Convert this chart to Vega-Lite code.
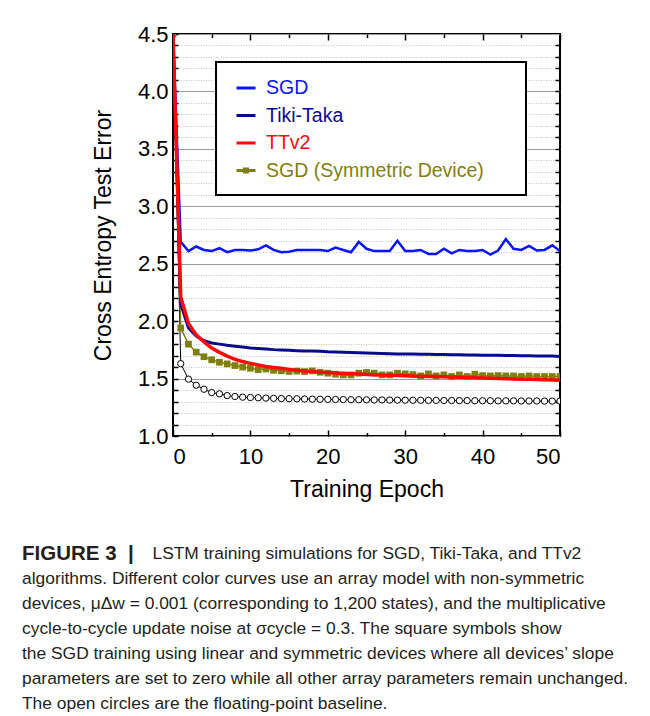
{
  "$schema": "https://vega.github.io/schema/vega-lite/v6.json",
  "width": 387,
  "height": 402,
  "padding": {"left": 22, "top": 23, "right": 5, "bottom": 5},
  "background": "white",
  "title": {
    "text": "FIGURE 3\u00a0\u00a0|",
    "subtitle": [
      "\u200b\u00a0\u00a0\u00a0\u00a0\u00a0\u00a0\u00a0\u00a0\u00a0\u00a0\u00a0\u00a0\u00a0\u00a0\u00a0\u00a0\u00a0\u00a0\u00a0\u00a0\u00a0\u00a0\u00a0\u00a0\u00a0\u00a0\u00a0LSTM training simulations for SGD, Tiki-Taka, and TTv2",
      "algorithms. Different color curves use an array model with non-symmetric",
      "devices, μΔw = 0.001 (corresponding to 1,200 states), and the multiplicative",
      "cycle-to-cycle update noise at σcycle = 0.3. The square symbols show",
      "the SGD training using linear and symmetric devices where all devices’ slope",
      "parameters are set to zero while all other array parameters remain unchanged.",
      "The open circles are the floating-point baseline."
    ],
    "orient": "bottom",
    "anchor": "start",
    "frame": "group",
    "dx": -151,
    "offset": 43,
    "font": "Liberation Sans",
    "fontSize": 20.5,
    "fontWeight": "bold",
    "color": "#231f20",
    "subtitleFont": "Liberation Sans",
    "subtitleFontSize": 17.4,
    "subtitleFontWeight": "normal",
    "subtitleColor": "#231f20",
    "subtitleLineHeight": 25,
    "subtitlePadding": -20
  },
  "data": {
    "values": [
      {"e":0,"sgd":4.5,"tt":4.5,"tt2":4.5,"sym":4.5,"fp":4.5},
      {"e":1,"sgd":2.69,"tt":2.15,"tt2":2.21,"sym":1.94,"fp":1.63},
      {"e":2,"sgd":2.61,"tt":1.94,"tt2":1.98,"sym":1.80,"fp":1.495},
      {"e":3,"sgd":2.65,"tt":1.87,"tt2":1.88,"sym":1.73,"fp":1.442},
      {"e":4,"sgd":2.62,"tt":1.83,"tt2":1.82,"sym":1.69,"fp":1.407},
      {"e":5,"sgd":2.61,"tt":1.81,"tt2":1.765,"sym":1.663,"fp":1.378},
      {"e":6,"sgd":2.635,"tt":1.80,"tt2":1.728,"sym":1.642,"fp":1.367},
      {"e":7,"sgd":2.60,"tt":1.79,"tt2":1.695,"sym":1.628,"fp":1.352},
      {"e":8,"sgd":2.62,"tt":1.782,"tt2":1.668,"sym":1.613,"fp":1.344},
      {"e":9,"sgd":2.62,"tt":1.775,"tt2":1.648,"sym":1.60,"fp":1.338},
      {"e":10,"sgd":2.615,"tt":1.767,"tt2":1.632,"sym":1.59,"fp":1.335},
      {"e":11,"sgd":2.625,"tt":1.762,"tt2":1.618,"sym":1.578,"fp":1.333},
      {"e":12,"sgd":2.66,"tt":1.757,"tt2":1.606,"sym":1.583,"fp":1.33},
      {"e":13,"sgd":2.62,"tt":1.752,"tt2":1.597,"sym":1.572,"fp":1.328},
      {"e":14,"sgd":2.60,"tt":1.749,"tt2":1.589,"sym":1.568,"fp":1.326},
      {"e":15,"sgd":2.605,"tt":1.746,"tt2":1.58,"sym":1.562,"fp":1.325},
      {"e":16,"sgd":2.62,"tt":1.743,"tt2":1.572,"sym":1.565,"fp":1.324},
      {"e":17,"sgd":2.62,"tt":1.741,"tt2":1.566,"sym":1.561,"fp":1.322},
      {"e":18,"sgd":2.62,"tt":1.739,"tt2":1.561,"sym":1.567,"fp":1.321},
      {"e":19,"sgd":2.62,"tt":1.737,"tt2":1.556,"sym":1.555,"fp":1.32},
      {"e":20,"sgd":2.61,"tt":1.733,"tt2":1.552,"sym":1.547,"fp":1.319},
      {"e":21,"sgd":2.64,"tt":1.731,"tt2":1.548,"sym":1.538,"fp":1.318},
      {"e":22,"sgd":2.62,"tt":1.73,"tt2":1.545,"sym":1.532,"fp":1.317},
      {"e":23,"sgd":2.60,"tt":1.727,"tt2":1.542,"sym":1.532,"fp":1.316},
      {"e":24,"sgd":2.69,"tt":1.724,"tt2":1.539,"sym":1.547,"fp":1.316},
      {"e":25,"sgd":2.63,"tt":1.722,"tt2":1.536,"sym":1.553,"fp":1.315},
      {"e":26,"sgd":2.61,"tt":1.72,"tt2":1.533,"sym":1.547,"fp":1.314},
      {"e":27,"sgd":2.61,"tt":1.718,"tt2":1.531,"sym":1.532,"fp":1.314},
      {"e":28,"sgd":2.61,"tt":1.716,"tt2":1.529,"sym":1.532,"fp":1.313},
      {"e":29,"sgd":2.70,"tt":1.715,"tt2":1.527,"sym":1.547,"fp":1.312},
      {"e":30,"sgd":2.61,"tt":1.715,"tt2":1.525,"sym":1.541,"fp":1.312},
      {"e":31,"sgd":2.61,"tt":1.714,"tt2":1.523,"sym":1.535,"fp":1.311},
      {"e":32,"sgd":2.62,"tt":1.712,"tt2":1.521,"sym":1.523,"fp":1.311},
      {"e":33,"sgd":2.585,"tt":1.711,"tt2":1.519,"sym":1.541,"fp":1.31},
      {"e":34,"sgd":2.585,"tt":1.71,"tt2":1.517,"sym":1.523,"fp":1.31},
      {"e":35,"sgd":2.63,"tt":1.709,"tt2":1.515,"sym":1.532,"fp":1.309},
      {"e":36,"sgd":2.59,"tt":1.708,"tt2":1.513,"sym":1.518,"fp":1.309},
      {"e":37,"sgd":2.62,"tt":1.708,"tt2":1.511,"sym":1.532,"fp":1.308},
      {"e":38,"sgd":2.61,"tt":1.706,"tt2":1.509,"sym":1.518,"fp":1.308},
      {"e":39,"sgd":2.61,"tt":1.705,"tt2":1.507,"sym":1.538,"fp":1.307},
      {"e":40,"sgd":2.62,"tt":1.704,"tt2":1.505,"sym":1.526,"fp":1.307},
      {"e":41,"sgd":2.58,"tt":1.703,"tt2":1.503,"sym":1.523,"fp":1.307},
      {"e":42,"sgd":2.615,"tt":1.703,"tt2":1.501,"sym":1.526,"fp":1.306},
      {"e":43,"sgd":2.715,"tt":1.701,"tt2":1.499,"sym":1.523,"fp":1.306},
      {"e":44,"sgd":2.63,"tt":1.70,"tt2":1.497,"sym":1.523,"fp":1.306},
      {"e":45,"sgd":2.62,"tt":1.699,"tt2":1.495,"sym":1.518,"fp":1.305},
      {"e":46,"sgd":2.655,"tt":1.698,"tt2":1.493,"sym":1.523,"fp":1.305},
      {"e":47,"sgd":2.615,"tt":1.697,"tt2":1.491,"sym":1.518,"fp":1.305},
      {"e":48,"sgd":2.62,"tt":1.696,"tt2":1.489,"sym":1.518,"fp":1.304},
      {"e":49,"sgd":2.66,"tt":1.696,"tt2":1.487,"sym":1.518,"fp":1.304},
      {"e":50,"sgd":2.61,"tt":1.693,"tt2":1.485,"sym":1.518,"fp":1.304}
    ]
  },
  "layer": [
    {
      "mark": {"type": "line", "color": "black", "strokeWidth": 1, "clip": true,
        "point": {"filled": true, "fill": "white", "stroke": "black", "strokeWidth": 1, "size": 40, "clip": true}},
      "encoding": {
        "x": {"field": "e", "type": "quantitative", "scale": {"domain": [0, 50], "nice": false},
          "axis": {"orient": "bottom", "values": [0, 10, 20, 30, 40, 50], "tickSize": -6, "labelFontSize": 22, "labelPadding": 16, "grid": false, "title": "Training Epoch", "titleFontSize": 23, "titlePadding": 11}},
        "y": {"field": "fp", "type": "quantitative", "scale": {"domain": [1, 4.5], "nice": false, "zero": false},
          "axis": {"orient": "left", "values": [1, 1.5, 2, 2.5, 3, 3.5, 4, 4.5], "format": ".1f", "tickSize": -5, "labelFontSize": 22, "labelPadding": 10, "grid": true, "gridColor": "#9a9a9a", "gridWidth": 1, "title": "Cross Entropy Test Error", "titleFontSize": 23, "titlePadding": 22}}
      }
    },
    {
      "mark": {"type": "line", "strokeWidth": 2.5, "clip": true},
      "encoding": {
        "x": {"field": "e", "type": "quantitative",
          "axis": {"orient": "bottom", "values": [5, 15, 25, 35, 45], "tickSize": -3.5, "labels": false, "grid": false, "title": null}},
        "y": {"field": "sgd", "type": "quantitative",
          "axis": {"orient": "left", "values": [1.1,1.2,1.3,1.4,1.6,1.7,1.8,1.9,2.1,2.2,2.3,2.4,2.6,2.7,2.8,2.9,3.1,3.2,3.3,3.4,3.6,3.7,3.8,3.9,4.1,4.2,4.3,4.4], "tickSize": -5, "labels": false, "grid": true, "gridColor": "#c4c4c4", "gridDash": [1, 1.5], "gridWidth": 1, "title": null}},
        "color": {"datum": "SGD", "type": "nominal",
          "scale": {"domain": ["SGD", "Tiki-Taka", "TTv2", "SGD (Symmetric Device)"], "range": ["#0a14ff", "#0a0a8c", "#ff0a0a", "#7f7f10"]},
          "legend": {"orient": "none", "legendX": 43, "legendY": 28, "title": null, "symbolType": "stroke", "symbolStrokeWidth": 3, "symbolSize": 361, "symbolOffset": 4, "labelFontSize": 19.5, "labelFont": "Liberation Sans", "labelLimit": 400, "labelOffset": 9, "rowPadding": 6.5, "padding": 15, "fillColor": "white", "strokeColor": "black",
            "labelExpr": "datum.label + '\u00a0\u00a0\u00a0\u00a0\u00a0\u200b'",
            "encode": {
              "labels": {"update": {"fill": {"scale": "color", "field": "value"}}},
              "symbols": {"update": {"shape": {"signal": "datum.value === 'SGD (Symmetric Device)' ? 'M-1,0H1M-0.17,-0.17H0.17V0.17H-0.17Z' : 'stroke'"}}},
              "legend": {"update": {"strokeWidth": {"value": 2}}}}}}
      }
    },
    {
      "mark": {"type": "line", "strokeWidth": 1.5, "clip": true,
        "point": {"shape": "square", "filled": true, "size": 45, "clip": true}},
      "encoding": {
        "x": {"field": "e", "type": "quantitative",
          "axis": {"orient": "top", "values": [0, 10, 20, 30, 40, 50], "tickSize": -6, "labels": false, "grid": false, "title": null}},
        "y": {"field": "sym", "type": "quantitative",
          "axis": {"orient": "right", "values": [1.1,1.2,1.3,1.4,1.5,1.6,1.7,1.8,1.9,2.0,2.1,2.2,2.3,2.4,2.5,2.6,2.7,2.8,2.9,3.0,3.1,3.2,3.3,3.4,3.5,3.6,3.7,3.8,3.9,4.0,4.1,4.2,4.3,4.4], "tickSize": -5, "labels": false, "grid": false, "title": null}},
        "color": {"datum": "SGD (Symmetric Device)", "type": "nominal"}
      }
    },
    {
      "mark": {"type": "line", "strokeWidth": 3, "clip": true},
      "encoding": {
        "x": {"field": "e", "type": "quantitative",
          "axis": {"orient": "top", "values": [5, 15, 25, 35, 45], "tickSize": -3.5, "labels": false, "grid": false, "title": null}},
        "y": {"field": "tt", "type": "quantitative", "axis": null},
        "color": {"datum": "Tiki-Taka", "type": "nominal"}
      }
    },
    {
      "mark": {"type": "line", "strokeWidth": 3.5, "clip": true},
      "encoding": {
        "x": {"field": "e", "type": "quantitative", "axis": null},
        "y": {"field": "tt2", "type": "quantitative", "axis": null},
        "color": {"datum": "TTv2", "type": "nominal"}
      }
    }
  ],
  "resolve": {"axis": {"x": "independent", "y": "independent"}},
  "config": {
    "font": "Liberation Sans",
    "view": {"stroke": "black", "strokeWidth": 2},
    "axis": {"domain": false, "tickColor": "black", "tickWidth": 1.5, "labelColor": "black", "labelFont": "Liberation Sans", "titleFont": "Liberation Sans", "titleColor": "black", "titleFontWeight": "normal"}
  }
}
